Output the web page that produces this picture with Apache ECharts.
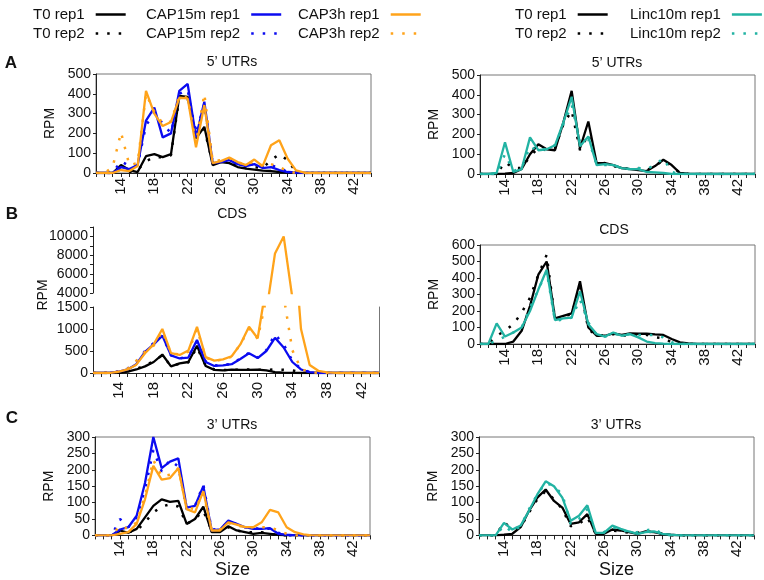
<!DOCTYPE html>
<html><head><meta charset="utf-8">
<script src="https://cdn.jsdelivr.net/npm/echarts@6/dist/echarts.min.js"></script>
<style>html,body{margin:0;padding:0;background:#fff}#c{width:764px;height:580px}</style>
</head><body><div id="c"></div>
<script>
// ---------- data ----------
const sizes = [11,12,13,14,15,16,17,18,19,20,21,22,23,24,25,26,27,28,29,30,31,32,33,34,35,36,37,38,39,40,41,42,43,44];
const xTickLabels = [14,18,22,26,30,34,38,42];

// A left: 5' UTRs
const utr5_T0_r1    = [0,0,0,40,15,5,85,95,80,95,390,385,175,233,40,55,50,30,22,17,12,10,5,2,0,0,0,0,0,0,0,0,0,0];
const utr5_T0_r2    = [0,0,0,20,5,15,60,80,80,90,385,375,190,220,50,60,55,35,25,30,25,65,95,65,5,0,0,0,0,0,0,0,0,0];
const utr5_CAP15_r1 = [0,0,0,30,20,40,265,330,180,200,415,450,180,360,50,55,65,45,35,45,25,30,15,5,3,0,0,0,0,0,0,0,0,0];
const utr5_CAP15_r2 = [0,0,0,60,35,40,240,305,250,200,400,420,200,350,50,60,70,45,40,45,30,40,25,5,0,0,0,0,0,0,0,0,0,0];
const utr5_CAP3h_r1 = [0,0,0,15,10,35,415,300,237,258,380,377,130,343,50,60,78,55,40,68,35,140,165,72,13,2,0,0,0,0,0,0,0,0];
const utr5_CAP3h_r2 = [0,0,30,205,40,50,400,310,250,260,390,380,150,400,60,65,75,55,40,60,35,45,30,10,0,0,0,0,0,0,0,0,0,0];
// A right: 5' UTRs
const utr5b_T0_r1   = [0,0,0,2,5,25,100,150,125,120,260,420,130,265,55,55,45,30,25,20,15,40,72,45,5,2,0,0,0,0,0,0,0,0];
const utr5b_T0_r2   = [0,0,0,60,30,30,90,130,120,130,250,320,120,200,50,55,40,30,25,25,20,40,70,40,5,0,0,0,0,0,0,0,0,0];
const utr5b_Linc_r1 = [0,0,5,160,10,25,185,120,125,145,260,390,140,190,45,50,45,30,25,25,10,8,5,0,0,0,0,0,0,0,0,0,0,0];
const utr5b_Linc_r2 = [0,0,0,100,15,30,140,115,130,145,250,350,160,175,50,45,45,30,25,30,25,45,80,10,0,0,0,0,0,0,0,0,0,0];
// B left: CDS
const cds_T0_r1     = [0,0,0,5,30,80,150,250,420,150,220,250,620,160,70,60,75,70,70,75,60,20,10,5,0,0,0,0,0,0,0,0,0,0];
const cds_T0_r2     = [0,0,0,10,40,90,170,270,400,160,210,240,580,170,80,65,70,75,80,75,70,80,75,60,20,5,0,0,0,0,0,0,0,0];
const cds_CAP15_r1  = [0,0,10,30,80,200,480,650,850,400,330,350,750,250,160,175,200,320,450,340,500,800,580,250,80,20,5,0,0,0,0,0,0,0];
const cds_CAP15_r2  = [0,0,10,40,100,250,500,680,850,400,330,380,720,260,170,180,210,330,460,350,520,880,650,280,90,20,0,0,0,0,0,0,0,0];
const cds_CAP3h_r1  = [0,0,5,30,80,190,450,650,1000,450,410,510,1050,360,280,310,380,650,1050,790,2000,8200,10000,3500,1000,180,50,15,5,0,0,0,0,0];
const cds_CAP3h_r2  = [0,0,5,30,100,280,480,620,950,450,420,480,1000,350,280,300,370,650,1000,780,1700,3200,1750,520,90,20,5,0,0,0,0,0,0,0];
// B right: CDS
const cdsb_T0_r1    = [0,0,0,0,15,80,230,420,500,155,170,185,380,100,50,50,65,55,65,62,62,58,55,30,10,3,0,0,0,0,0,0,0,0];
const cdsb_T0_r2    = [0,0,50,80,120,190,280,420,540,150,170,180,350,90,50,55,60,55,45,60,55,40,35,10,0,0,0,0,0,0,0,0,0,0];
const cdsb_Linc_r1  = [0,0,125,45,70,100,200,330,450,145,155,160,320,120,60,45,70,50,60,40,15,5,2,0,0,0,0,0,0,0,0,0,0,0];
const cdsb_Linc_r2  = [0,0,20,45,70,100,220,330,440,140,150,160,270,130,55,45,60,55,60,55,55,55,40,10,0,0,0,0,0,0,0,0,0,0];
// C left: 3' UTRs
const utr3_T0_r1    = [0,0,0,15,8,20,55,90,110,102,105,35,50,88,10,10,28,15,10,5,8,5,2,0,0,0,0,0,0,0,0,0,0,0];
const utr3_T0_r2    = [0,0,0,5,10,15,40,70,88,95,88,35,50,75,15,15,25,15,10,10,10,5,0,0,0,0,0,0,0,0,0,0,0,0];
const utr3_CAP15_r1 = [0,0,0,18,25,60,160,300,205,225,235,85,90,150,15,18,45,35,25,20,20,22,5,2,0,0,0,0,0,0,0,0,0,0];
const utr3_CAP15_r2 = [0,0,0,50,25,55,140,260,195,230,210,80,90,155,18,20,40,35,25,22,20,20,8,0,0,0,0,0,0,0,0,0,0,0];
const utr3_CAP3h_r1 = [0,0,0,5,10,35,110,212,170,175,205,80,70,135,15,15,40,33,25,25,40,78,70,25,10,3,0,0,0,0,0,0,0,0];
const utr3_CAP3h_r2 = [0,0,0,30,20,40,120,230,180,185,205,85,80,130,15,18,38,30,25,25,25,25,15,5,0,0,0,0,0,0,0,0,0,0];
// C right: 3' UTRs
const utr3b_T0_r1   = [0,0,0,2,5,25,75,115,140,105,85,35,40,65,5,5,18,15,10,5,12,10,5,2,0,0,0,0,0,0,0,0,0,0];
const utr3b_T0_r2   = [0,0,0,40,20,25,70,110,135,110,80,28,35,55,5,8,15,12,8,8,12,10,5,0,0,0,0,0,0,0,0,0,0,0];
const utr3b_Linc_r1 = [0,0,0,38,18,30,75,125,165,150,115,45,60,92,8,8,30,20,12,5,10,12,5,2,0,0,0,0,0,0,0,0,0,0];
const utr3b_Linc_r2 = [0,0,0,30,10,28,80,125,160,150,125,35,50,80,8,10,25,18,10,10,15,20,5,0,0,0,0,0,0,0,0,0,0,0];

// ---------- style ----------
const FONT = '"Liberation Sans", Arial, Helvetica, sans-serif';
const BLACK = '#000000', BLUE = '#0b0bf0', ORANGE = '#ffa31a', TEAL = '#22b3a3';
const AX = '#222', BORDER = '#777';
const DOT = [2.5, 9];

function xAxisFor(gridIndex, extra) {
  return Object.assign({
    type: 'value', gridIndex, min: 11, max: 44, interval: 1,
    axisLine: { show: true, onZero: false, lineStyle: { color: AX, width: 1 } },
    axisTick: { show: true, length: 4, lineStyle: { color: AX } },
    axisLabel: { rotate: 90, margin: 5, fontSize: 15, color: '#111', fontFamily: FONT,
      formatter: v => xTickLabels.includes(v) ? String(v) : '' },
    splitLine: { show: false }
  }, extra || {});
}
function yAxisFor(gridIndex, min, max, interval, extra) {
  return Object.assign({
    type: 'value', gridIndex, min, max, interval,
    axisLine: { show: true, onZero: false, lineStyle: { color: AX, width: 1 } },
    axisTick: { show: true, length: 3, lineStyle: { color: AX } },
    axisLabel: { margin: 5, fontSize: 14, color: '#111', fontFamily: FONT, formatter: v => String(v) },
    splitLine: { show: false },
    name: 'RPM', nameLocation: 'middle', nameRotate: 90, nameGap: 39,
    nameTextStyle: { fontSize: 14, color: '#111', fontFamily: FONT }
  }, extra || {});
}
function ln(name, vals, axis, color, dotted) {
  return {
    type: 'line', name, xAxisIndex: axis, yAxisIndex: axis,
    data: sizes.map((s, i) => [s, vals[i]]),
    symbol: 'none', clip: true, animation: false,
    lineStyle: { color, width: dotted ? 2.5 : 2.3, type: dotted ? DOT : 'solid' },
    itemStyle: { color }, emphasis: { disabled: true }
  };
}

const grids = [
  { left: 96, top: 74, width: 275, height: 99, show: true, borderColor: BORDER, borderWidth: 1 },   // A left
  { left: 480, top: 75, width: 275, height: 99, show: true, borderColor: BORDER, borderWidth: 1 },  // A right
  { left: 93, top: 307, width: 286, height: 66, show: false },                                       // B left low
  { left: 93, top: 227, width: 286, height: 66, show: false },                                       // B left up
  { left: 480, top: 245, width: 275, height: 99, show: true, borderColor: BORDER, borderWidth: 1 }, // B right
  { left: 95, top: 437, width: 275, height: 99, show: true, borderColor: BORDER, borderWidth: 1 },  // C left
  { left: 479, top: 437, width: 275, height: 99, show: true, borderColor: BORDER, borderWidth: 1 }  // C right
];

const sizeName = { name: 'Size', nameLocation: 'middle', nameGap: 23,
  nameTextStyle: { fontSize: 18, color: '#111', fontFamily: FONT } };
const xAxes = [
  xAxisFor(0), xAxisFor(1),
  xAxisFor(2, { axisLabel: Object.assign({}, xAxisFor(2).axisLabel, { margin: 9 }) }),
  xAxisFor(3, { show: false }),
  xAxisFor(4),
  xAxisFor(5, sizeName),
  xAxisFor(6, sizeName)
];
const yAxes = [
  yAxisFor(0, 0, 500, 100),
  yAxisFor(1, 0, 500, 100),
  yAxisFor(2, 0, 1500, 500, { name: '' }),
  yAxisFor(3, 4000, 11000, 1000, { name: '',
    axisTick: { show: true, length: 3, lineStyle: { color: AX } },
    axisLabel: { margin: 5, fontSize: 14, color: '#111', fontFamily: FONT,
      formatter: v => (v % 2000 === 0 && v <= 10000) ? String(v) : '' } }),
  yAxisFor(4, 0, 600, 100),
  yAxisFor(5, 0, 300, 50),
  yAxisFor(6, 0, 300, 50),
  { type: 'value', gridIndex: 2, position: 'right', min: 0, max: 1500,
    axisLine: { show: true, lineStyle: { color: BORDER } }, axisTick: { show: false },
    axisLabel: { show: false }, splitLine: { show: false } }
];

const series = [
  // A left
  ln('T0 rep1', utr5_T0_r1, 0, BLACK, false), ln('T0 rep2', utr5_T0_r2, 0, BLACK, true),
  ln('CAP15m rep1', utr5_CAP15_r1, 0, BLUE, false), ln('CAP15m rep2', utr5_CAP15_r2, 0, BLUE, true),
  ln('CAP3h rep1', utr5_CAP3h_r1, 0, ORANGE, false), ln('CAP3h rep2', utr5_CAP3h_r2, 0, ORANGE, true),
  // A right
  ln('T0 rep1', utr5b_T0_r1, 1, BLACK, false), ln('T0 rep2', utr5b_T0_r2, 1, BLACK, true),
  ln('Linc10m rep1', utr5b_Linc_r1, 1, TEAL, false), ln('Linc10m rep2', utr5b_Linc_r2, 1, TEAL, true),
  // B left lower
  ln('T0 rep1', cds_T0_r1, 2, BLACK, false), ln('T0 rep2', cds_T0_r2, 2, BLACK, true),
  ln('CAP15m rep1', cds_CAP15_r1, 2, BLUE, false), ln('CAP15m rep2', cds_CAP15_r2, 2, BLUE, true),
  ln('CAP3h rep1', cds_CAP3h_r1, 2, ORANGE, false), ln('CAP3h rep2', cds_CAP3h_r2, 2, ORANGE, true),
  // B left upper (broken axis part)
  ln('CAP3h rep1', cds_CAP3h_r1, 3, ORANGE, false), ln('CAP3h rep2', cds_CAP3h_r2, 3, ORANGE, true),
  // B right
  ln('T0 rep1', cdsb_T0_r1, 4, BLACK, false), ln('T0 rep2', cdsb_T0_r2, 4, BLACK, true),
  ln('Linc10m rep1', cdsb_Linc_r1, 4, TEAL, false), ln('Linc10m rep2', cdsb_Linc_r2, 4, TEAL, true),
  // C left
  ln('T0 rep1', utr3_T0_r1, 5, BLACK, false), ln('T0 rep2', utr3_T0_r2, 5, BLACK, true),
  ln('CAP15m rep1', utr3_CAP15_r1, 5, BLUE, false), ln('CAP15m rep2', utr3_CAP15_r2, 5, BLUE, true),
  ln('CAP3h rep1', utr3_CAP3h_r1, 5, ORANGE, false), ln('CAP3h rep2', utr3_CAP3h_r2, 5, ORANGE, true),
  // C right
  ln('T0 rep1', utr3b_T0_r1, 6, BLACK, false), ln('T0 rep2', utr3b_T0_r2, 6, BLACK, true),
  ln('Linc10m rep1', utr3b_Linc_r1, 6, TEAL, false), ln('Linc10m rep2', utr3b_Linc_r2, 6, TEAL, true)
];

function legendCol(left, names) {
  return {
    orient: 'vertical', left, top: 2, itemGap: 4, itemWidth: 30, itemHeight: 14,
    align: 'right', data: names, selectedMode: false,
    textStyle: { fontSize: 15, color: '#111', fontFamily: FONT, padding: [0, 6, 0, 0] },
    itemStyle: { opacity: 0, borderWidth: 0 },
    lineStyle: { width: 2.5 }
  };
}
const legends = [
  legendCol(28, ['T0 rep1', 'T0 rep2']),
  legendCol(141, ['CAP15m rep1', 'CAP15m rep2']),
  legendCol(293, ['CAP3h rep1', 'CAP3h rep2']),
  legendCol(510, ['T0 rep1', 'T0 rep2']),
  legendCol(625, ['Linc10m rep1', 'Linc10m rep2'])
];

function txt(text, x, y, size, weight, rot) {
  return { type: 'text', x, y, rotation: rot || 0, silent: true,
    style: { text, fontSize: size, fontWeight: weight || 'normal', fontFamily: FONT, fill: '#111',
      align: 'center', verticalAlign: 'middle' } };
}
const graphics = [
  txt('A', 11, 63, 17, 'bold'), txt('B', 12, 214, 17, 'bold'), txt('C', 12, 418, 17, 'bold'),
  txt('5\u2019 UTRs', 232, 62, 14), txt('5\u2019 UTRs', 617, 63, 14),
  txt('CDS', 232, 214, 14), txt('CDS', 614, 230, 14),
  txt('3\u2019 UTRs', 232, 425, 14), txt('3\u2019 UTRs', 616, 425, 14),
  txt('RPM', 43, 295, 14, 'normal', Math.PI / 2)
];

const chart = echarts.init(document.getElementById('c'), null, { renderer: 'canvas' });
chart.setOption({
  animation: false,
  backgroundColor: '#ffffff',
  grid: grids, xAxis: xAxes, yAxis: yAxes, series,
  legend: legends, graphic: graphics
});
</script></body></html>
